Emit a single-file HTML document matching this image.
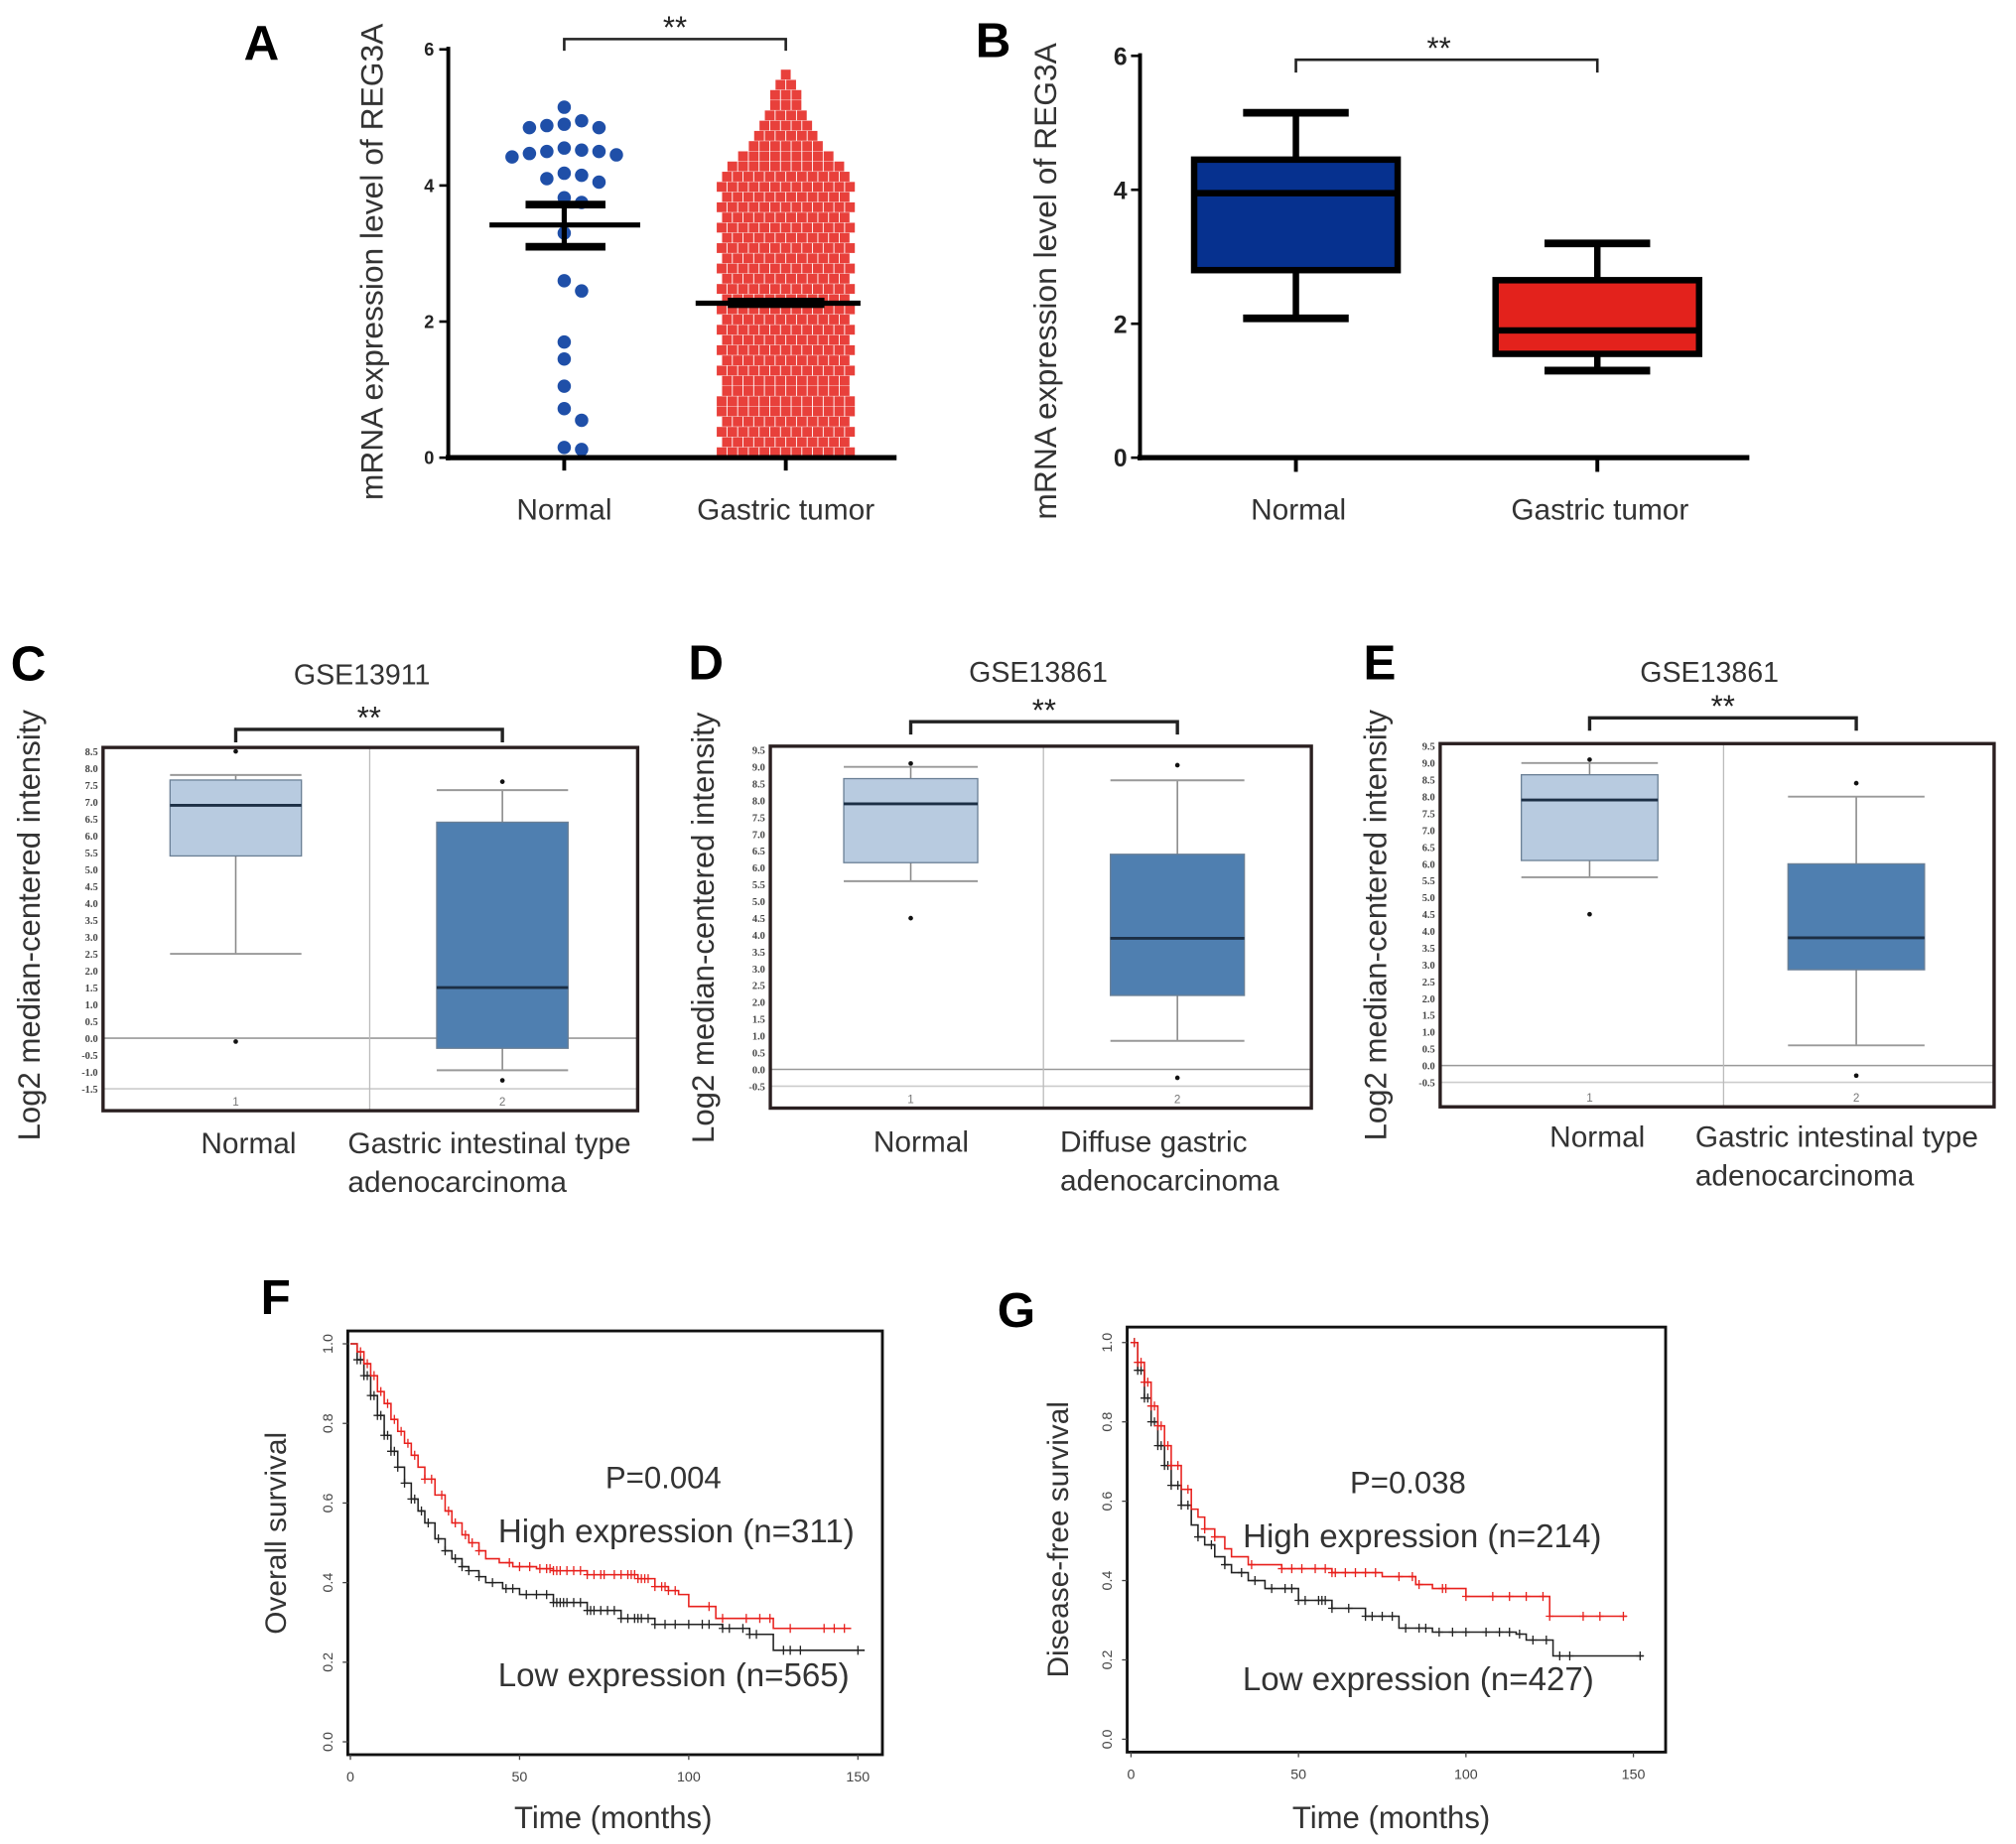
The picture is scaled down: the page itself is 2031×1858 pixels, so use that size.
<!DOCTYPE html>
<html><head><meta charset="utf-8"><style>
html,body{margin:0;padding:0;background:#fff;}
svg{display:block;font-family:"Liberation Sans",Arial,sans-serif;}
</style></head><body>
<svg id="fig" width="2031" height="1858" viewBox="0 0 1565 1431" xmlns="http://www.w3.org/2000/svg">
<rect width="1565" height="1431" fill="#fff"/>
<g id="pA"></g>
<g id="pB"></g>
<g id="pC"></g>
<g id="pD"></g>
<g id="pE"></g>
<g id="pF"></g>
<g id="pG"></g>
</svg>
<script>
// ---- Panel A data ----
const aNormalValues=[5.15,4.95,4.9,4.85,4.85,4.88,4.52,4.55,4.47,4.5,4.5,4.45,4.42,4.38,4.15,4.1,4.18,4.05,3.82,3.75,3.3,2.6,2.45,1.7,1.45,1.05,0.72,0.55,0.15,0.12];
const aNormalMean=3.42, aNormalSemLo=3.1, aNormalSemHi=3.72;
const aTumorBinStart=0.08, aTumorBinStep=0.15;
const aTumorCounts=[13,12,13,12,13,13,12,12,13,12,13,12,13,12,13,12,13,12,13,12,13,12,13,12,13,12,13,12,11,9,7,6,5,4,3,3,2,1];
const aTumorMean=2.27, aTumorSemLo=2.2, aTumorSemHi=2.35;
const aYTicks=[0,2,4,6];
// ---- Panel B data ----
const bCategories=["Normal","Gastric tumor"];
const bMin=[2.08,1.3], bQ1=[2.8,1.55], bMedian=[3.95,1.9], bQ3=[4.45,2.65], bMax=[5.15,3.2];
const bYTicks=[0,2,4,6];
// ---- Panels C/D/E data ----
const cMin=[2.5,-0.95], cQ1=[5.4,-0.3], cMed=[6.9,1.5], cQ3=[7.65,6.4], cMax=[7.8,7.35];
const cOutliers=[[-0.1,8.5],[7.6,-1.25]];
const dMin=[5.6,0.85], dQ1=[6.15,2.2], dMed=[7.9,3.9], dQ3=[8.65,6.4], dMax=[9.0,8.6];
const dOutliers=[[9.1,4.5],[9.05,-0.25]];
const eMin=[5.6,0.6], eQ1=[6.1,2.85], eMed=[7.9,3.8], eQ3=[8.65,6.0], eMax=[9.0,8.0];
const eOutliers=[[9.1,4.5],[8.4,-0.3]];
const cTickLabels=["8.5","8.0","7.5","7.0","6.5","6.0","5.5","5.0","4.5","4.0","3.5","3.0","2.5","2.0","1.5","1.0","0.5","0.0","-0.5","-1.0","-1.5"];
const dTickLabels=["9.5","9.0","8.5","8.0","7.5","7.0","6.5","6.0","5.5","5.0","4.5","4.0","3.5","3.0","2.5","2.0","1.5","1.0","0.5","0.0","-0.5"];
// ---- Panel F data (KM) ----
const fHighT=[0,2,4,6,8,10,12,14,16,18,20,22,25,28,30,33,35,38,40,44,48,55,60,70,85,90,94,97,100,108,124,125,148];
const fHighS=[1.0,0.98,0.95,0.92,0.88,0.85,0.81,0.78,0.75,0.72,0.69,0.66,0.62,0.58,0.55,0.52,0.5,0.48,0.46,0.45,0.44,0.435,0.43,0.42,0.41,0.39,0.38,0.37,0.34,0.31,0.31,0.285,0.285];
const fLowT=[0,2,4,6,8,10,12,14,16,18,20,22,25,28,30,33,35,38,40,45,50,60,70,80,90,110,118,124,125,152];
const fLowS=[1.0,0.96,0.92,0.87,0.82,0.77,0.73,0.69,0.65,0.61,0.58,0.55,0.51,0.48,0.46,0.44,0.43,0.415,0.4,0.385,0.37,0.35,0.33,0.31,0.295,0.285,0.27,0.27,0.23,0.23];
const fHighCens=[3,5,7,9,11,13,15,17,19,22,24,27,29,31,34,36,38,47,50,53,56,58,59,60,61,62,64,66,68,70,72,74,75,78,80,82,83,84,85,86,87,88,90,92,93,94,96,106,110,117,121,124,130,140,143,146];
const fLowCens=[2,3,4,5,6,7,8,9,10,11,12,13,14,16,18,19,21,23,26,28,31,33,35,38,42,46,48,52,55,58,60,61,62,63,64,66,68,70,71,72,74,76,78,80,82,84,85,86,88,90,93,96,100,104,106,110,112,116,118,120,128,130,133,150];
// ---- Panel G data (KM) ----
const gHighT=[0,2,4,6,8,10,12,15,18,20,22,25,28,30,35,45,60,75,85,90,100,124,125,148];
const gHighS=[1.0,0.95,0.9,0.84,0.79,0.74,0.69,0.63,0.58,0.56,0.53,0.51,0.48,0.46,0.44,0.43,0.42,0.41,0.39,0.38,0.36,0.36,0.31,0.31];
const gLowT=[0,2,4,6,8,10,12,15,18,20,22,25,28,30,35,40,50,60,70,80,90,115,118,125,126,153];
const gLowS=[1.0,0.93,0.86,0.8,0.74,0.69,0.64,0.59,0.54,0.51,0.49,0.46,0.44,0.42,0.4,0.38,0.35,0.33,0.31,0.28,0.27,0.265,0.25,0.25,0.21,0.21];
const gHighCens=[1,2,3,4,5,6,7,8,9,11,12,14,17,22,25,36,45,48,51,55,58,60,61,64,67,70,73,80,84,86,93,94,100,108,113,118,123,125,135,140,147];
const gLowCens=[1,2,3,4,5,6,7,8,9,10,11,12,14,15,17,20,24,28,33,37,42,46,48,50,52,56,57,58,60,65,70,72,75,78,82,86,88,92,96,100,106,110,113,116,120,124,128,131,152];
const kmXTicks=[0,50,100,150];
const kmYTicks=["0.0","0.2","0.4","0.6","0.8","1.0"];

const NS="http://www.w3.org/2000/svg";
function el(parent,tag,attrs,text){const e=document.createElementNS(NS,tag);for(const k in attrs)e.setAttribute(k,attrs[k]);if(text!==undefined)e.textContent=text;parent.appendChild(e);return e;}
function txt(p,x,y,s,size,name,extra){const o=Object.assign({x:x,y:y,'font-size':size,fill:'#333','text-anchor':'middle'},extra||{});const t=el(p,'text',o,s);return t;}
function line(p,x1,y1,x2,y2,stroke,w,name){const l=el(p,'line',{x1:x1,y1:y1,x2:x2,y2:y2,stroke:stroke,'stroke-width':w});return l;}
function bracket(p,x1,x2,y,y2,w,name){const pa=el(p,'path',{d:`M${x1} ${y2}V${y}H${x2}V${y2}`,fill:'none',stroke:'#222','stroke-width':w});}
function letter(p,x,y,s){txt(p,x,y,s,38,'panel-label-'+s.toLowerCase(),{'font-weight':'bold',fill:'#000'});}

// ---------- Panel A ----------
(function(){
 const g=document.getElementById('pA');
 const y=v=>355-v*(355-38)/6;
 const xN=438,xT=610;
 letter(g,203,46,'A');
 txt(g,0,0,'mRNA expression level of REG3A',24.5,'y-axis-title',{transform:'translate(297,203) rotate(-90)'});
 aTumorCounts.forEach((c,i)=>{const v=aTumorBinStart+i*aTumorBinStep;for(let k=0;k<c;k++){const off=(k-(c-1)/2)*8.3;const r=el(g,'rect',{x:xT+off-3.8,y:y(v)-3.8,width:7.6,height:7.6,fill:'#e8403b'});}});
 const placed=[];
 aNormalValues.slice().sort((a,b)=>b-a).forEach(v=>{const py=y(v);const order=[0,1,-1,2,-2,3,-3];for(const o of order){const px=xN+o*13.5;if(placed.every(q=>Math.hypot(q[0]-px,q[1]-py)>=11)){placed.push([px,py]);const c=el(g,'circle',{cx:px,cy:py,r:5.2,fill:'#1f4fa8'});break;}}});
 line(g,380,y(aNormalMean),497,y(aNormalMean),'#000',4,'normal-mean-line');
 line(g,408,y(aNormalSemHi),470,y(aNormalSemHi),'#000',6,'normal-sem-upper');
 line(g,408,y(aNormalSemLo),470,y(aNormalSemLo),'#000',6,'normal-sem-lower');
 line(g,xN,y(aNormalSemHi),xN,y(aNormalSemLo),'#000',4,'normal-sem-bar');
 line(g,540,y(aTumorMean),668,y(aTumorMean),'#000',4,'tumor-mean-line');
 const rb=el(g,'rect',{x:565,y:y(aTumorSemHi),width:75,height:y(aTumorSemLo)-y(aTumorSemHi),fill:'#000'});
 line(g,348,36,348,357,'#000',3,'y-axis');
 line(g,346,355,696,355,'#000',4,'x-axis');
 aYTicks.forEach(v=>{line(g,341,y(v),348,y(v),'#000',2,'y-tick');txt(g,337,y(v)+5,String(v),14,'y-tick-label',{'text-anchor':'end','font-weight':'bold',fill:'#222'});});
 [xN,xT].forEach(x=>line(g,x,355,x,365,'#000',3,'x-tick'));
 txt(g,xN,403,'Normal',23,'x-label-normal');txt(g,xT,403,'Gastric tumor',23,'x-label-gastric-tumor');
 bracket(g,xN,xT,30,39,2,'significance-bracket');
 txt(g,524,29,'**',24,'significance-stars',{fill:'#222'});
})();

// ---------- Panel B ----------
(function(){
 const g=document.getElementById('pB');
 const y=v=>355-v*(355-43)/6;
 const xs=[1006,1240], fills=['#06318f','#e3221c'];
 letter(g,771,44,'B');
 txt(g,0,0,'mRNA expression level of REG3A',24.5,'y-axis-title',{transform:'translate(820,218) rotate(-90)'});
 bCategories.forEach((c,i)=>{const x=xs[i];
  line(g,x,y(bMax[i]),x,y(bQ3[i]),'#000',5,'whisker-upper');
  line(g,x,y(bQ1[i]),x,y(bMin[i]),'#000',5,'whisker-lower');
  line(g,x-41,y(bMax[i]),x+41,y(bMax[i]),'#000',6,'whisker-cap-upper');
  line(g,x-41,y(bMin[i]),x+41,y(bMin[i]),'#000',6,'whisker-cap-lower');
  const r=el(g,'rect',{x:x-79,y:y(bQ3[i]),width:158,height:y(bQ1[i])-y(bQ3[i]),fill:fills[i],stroke:'#000','stroke-width':5});
  line(g,x-79,y(bMedian[i]),x+79,y(bMedian[i]),'#000',5,'median-line');
  line(g,x,355,x,366,'#000',3,'x-tick');
  txt(g,x+2,403,c,23,'x-label');
 });
 line(g,885,41,885,357,'#000',3,'y-axis');
 line(g,883,355,1358,355,'#000',4,'x-axis');
 bYTicks.forEach(v=>{line(g,878,y(v),885,y(v),'#000',2,'y-tick');txt(g,875,y(v)+7,String(v),19,'y-tick-label',{'text-anchor':'end','font-weight':'bold',fill:'#222'});});
 bracket(g,1006,1240,46,56,2,'significance-bracket');
 txt(g,1117,45,'**',24,'significance-stars',{fill:'#222'});
})();

// ---------- Panels C/D/E ----------
function oncomine(id,L,fx0,fx1,fy0,fy1,tickTop,topV,tickBot,botV,ticks,mins,q1,med,q3,maxs,outs,centers,halfW,div,title,titleX,titleY,brY,labels,ytX,ytY){
 const g=document.getElementById(id);
 const y=v=>tickTop+(topV-v)*(tickBot-tickTop)/(topV-botV);
 letter(g,L[1],L[2],L[0]);
 txt(g,titleX,titleY,title,22,'chart-title');
 txt(g,0,0,'Log2 median-centered intensity',24,'y-axis-title',{transform:`translate(${ytX},${ytY}) rotate(-90)`});
 line(g,fx0,y(0),fx1,y(0),'#999',1.2,'zero-line');
 line(g,fx0,y(botV),fx1,y(botV),'#ccc',1.2,'bottom-gridline');
 line(g,div,fy0,div,fy1,'#bbb',1,'group-divider');
 centers.forEach((x,i)=>{
  const fill=i?'#4f7fb0':'#b8cbe0';
  line(g,x,y(maxs[i]),x,y(q3[i]),'#888',1.2,'whisker-upper');
  line(g,x,y(q1[i]),x,y(mins[i]),'#888',1.2,'whisker-lower');
  line(g,x-halfW,y(maxs[i]),x+halfW,y(maxs[i]),'#999',1.5,'whisker-cap-upper');
  line(g,x-halfW,y(mins[i]),x+halfW,y(mins[i]),'#999',1.5,'whisker-cap-lower');
  const r=el(g,'rect',{x:x-halfW,y:y(q3[i]),width:2*halfW,height:y(q1[i])-y(q3[i]),fill:fill,stroke:'#6a7f95','stroke-width':1});
  line(g,x-halfW,y(med[i]),x+halfW,y(med[i]),'#1c2f45',2.2,'median-line');
  outs[i].forEach(v=>{const c=el(g,'circle',{cx:x,cy:y(v),r:1.8,fill:'#111'});});
  txt(g,x,fy1-4,String(i+1),9,'group-index',{fill:'#777'});
 });
 ticks.forEach((s,i)=>{const v=topV-i*0.5;txt(g,fx0-4,y(v)+3,s,8,'y-tick-label',{'text-anchor':'end','font-weight':'bold',fill:'#444','font-family':'Liberation Serif,serif'});});
 const fr=el(g,'rect',{x:fx0,y:fy0,width:fx1-fx0,height:fy1-fy0,fill:'none',stroke:'#2a1f20','stroke-width':2.6});
 bracket(g,centers[0],centers[1],brY,brY+10,2.6,'significance-bracket');
 txt(g,(centers[0]+centers[1])/2,brY-1,'**',24,'significance-stars',{fill:'#222'});
 labels.forEach(l=>txt(g,l[0],l[1],l[2],23,'x-label',{'text-anchor':l[3]}));
}
oncomine('pC',['C',22,528],80,495,580,862,583,8.5,845,-1.5,cTickLabels,cMin,cQ1,cMed,cQ3,cMax,cOutliers,[183,390],51,287,'GSE13911',281,531,566,
 [[193,895,'Normal','middle'],[270,895,'Gastric intestinal type','start'],[270,925,'adenocarcinoma','start']],31,718);
oncomine('pD',['D',548,527],598,1018,579,860,582,9.5,843,-0.5,dTickLabels,dMin,dQ1,dMed,dQ3,dMax,dOutliers,[707,914],52,810,'GSE13861',806,529,560,
 [[715,894,'Normal','middle'],[823,894,'Diffuse gastric','start'],[823,924,'adenocarcinoma','start']],554,720);
oncomine('pE',['E',1071,527],1118,1548,577,859,579,9.5,840,-0.5,dTickLabels,eMin,eQ1,eMed,eQ3,eMax,eOutliers,[1234,1441],53,1338,'GSE13861',1327,529,557,
 [[1240,890,'Normal','middle'],[1316,890,'Gastric intestinal type','start'],[1316,920,'adenocarcinoma','start']],1076,718);

// ---------- Panels F/G ----------
function km(id,L,fx0,fx1,fy0,fy1,x0px,x150px,y1px,y0px,ytitle,ytX,ytY,hiT,hiS,loT,loS,hiC,loC,pText,hiText,loText,tx){
 const g=document.getElementById(id);
 const x=t=>x0px+t*(x150px-x0px)/150;
 const y=s=>y0px-s*(y0px-y1px);
 letter(g,L[1],L[2],L[0]);
 txt(g,0,0,ytitle,23,'y-axis-title',{transform:`translate(${ytX},${ytY}) rotate(-90)`});
 const survAt=(T,S,t)=>{let s=S[0];for(let i=0;i<T.length;i++){if(T[i]<=t)s=S[i];}return s;};
 [[loT,loS,loC,'#222','low-expression-curve'],[hiT,hiS,hiC,'#e8211d','high-expression-curve']].forEach(([T,S,C,col,name])=>{
  let d=`M${x(T[0])} ${y(S[0])}`;for(let i=1;i<T.length;i++){d+=`H${x(T[i])}V${y(S[i])}`;}
  const p=el(g,'path',{d:d,fill:'none',stroke:col,'stroke-width':1.2});
  C.forEach(t=>{const cx=x(t),cy=y(survAt(T,S,t));const m=el(g,'path',{d:`M${cx-3} ${cy}H${cx+3}M${cx} ${cy-3.5}V${cy+3.5}`,stroke:col,'stroke-width':1});});
 });
 const fr=el(g,'rect',{x:fx0,y:fy0,width:fx1-fx0,height:fy1-fy0,fill:'none',stroke:'#111','stroke-width':2.2});
 kmXTicks.forEach(t=>{line(g,x(t),fy1,x(t),fy1+4,'#444',1,'x-tick');txt(g,x(t),fy1+21,String(t),11,'x-tick-label',{fill:'#444'});});
 kmYTicks.forEach(s=>{const v=parseFloat(s);line(g,fx0-4,y(v),fx0,y(v),'#444',1,'y-tick');txt(g,0,0,s,11,'y-tick-label',{fill:'#444',transform:`translate(${fx0-12},${y(v)}) rotate(-90)`});});
 txt(g,tx[0],tx[1],pText,24,'p-value-annotation');
 txt(g,tx[2],tx[3],hiText,25.5,'high-expression-label');
 txt(g,tx[4],tx[5],loText,25.5,'low-expression-label');
 txt(g,(x0px+x150px)/2+7,1419,'Time (months)',24,'x-axis-title');
}
km('pF',['F',214,1020],270,685,1033,1362,272,666,1043,1352,'Overall survival',222,1190,fHighT,fHighS,fLowT,fLowS,fHighCens,fLowCens,'P=0.004','High expression (n=311)','Low expression (n=565)',[515,1155,525,1197,523,1309]);
km('pG',['G',789,1030],875,1293,1030,1360,878,1268,1042,1350,'Disease-free survival',829,1195,gHighT,gHighS,gLowT,gLowS,gHighCens,gLowCens,'P=0.038','High expression (n=214)','Low expression (n=427)',[1093,1159,1104,1201,1101,1312]);
</script>
</body></html>
